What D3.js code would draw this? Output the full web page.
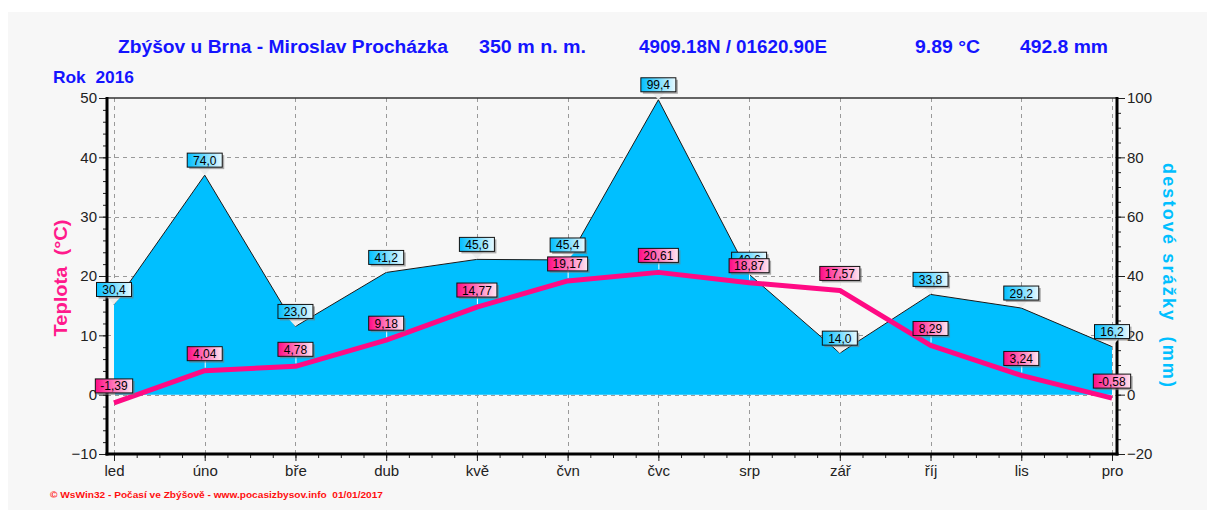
<!DOCTYPE html>
<html>
<head>
<meta charset="utf-8">
<script src="https://cdn.jsdelivr.net/npm/d3@7"></script>
<style>
  html, body { margin: 0; padding: 0; background: #ffffff; }
  svg { display: block; font-family: "Liberation Sans", Arial, sans-serif; }
  text.pre { white-space: pre; }
</style>
</head>
<body>
<svg id="chart" width="1215" height="514"></svg>
<script>
// ---- data ----
const months = ["led", "úno", "bře", "dub", "kvě", "čvn", "čvc", "srp", "zář", "říj", "lis", "pro"];
const temperature = [-1.39, 4.04, 4.78, 9.18, 14.77, 19.17, 20.61, 18.87, 17.57, 8.29, 3.24, -0.58];
const precipitation = [30.4, 74.0, 23.0, 41.2, 45.6, 45.4, 99.4, 40.6, 14.0, 33.8, 29.2, 16.2];
const tempTicks = [-10, 0, 10, 20, 30, 40, 50];
const precTicks = [-20, 0, 20, 40, 60, 80, 100];
const headerTexts = ["Zbýšov u Brna - Miroslav Procházka", "350 m n. m.", "4909.18N / 01620.90E", "9.89 °C", "492.8 mm"];
const yearLabel = "Rok  2016";
const leftTitle = "Teplota  (°C)";
const rightTitle = "destové srážky  (mm)";
const footer = "© WsWin32 - Počasí ve Zbýšově - www.pocasizbysov.info  01/01/2017";

const svg = d3.select("#chart");

// panel background
svg.append("rect").attr("x", 8).attr("y", 12).attr("width", 1199).attr("height", 498).attr("fill", "#f7f7f7");

const L = 107, R = 1117, T = 98, B = 454;
const x = d3.scalePoint().domain(months).range([114, 1112]);
const yT = d3.scaleLinear().domain([-10, 50]).range([B, T]);
const yP = d3.scaleLinear().domain([-20, 100]).range([B, T]);

// defs: gradients
const defs = svg.append("defs");
const gP = defs.append("linearGradient").attr("id", "gPink");
gP.append("stop").attr("offset", "0%").attr("stop-color", "#ff0a84");
gP.append("stop").attr("offset", "100%").attr("stop-color", "#ffe6f2");
const gB = defs.append("linearGradient").attr("id", "gBlue");
gB.append("stop").attr("offset", "0%").attr("stop-color", "#00bfff");
gB.append("stop").attr("offset", "100%").attr("stop-color", "#e8f9ff");

// header
const hdr = svg.append("g").attr("fill", "#1414ff").attr("font-weight", "bold").attr("font-size", 18);
const hdrPos = [[118, 330], [479, 107], [639, 188], [915, 65], [1020, 88]];
headerTexts.forEach((t, i) => {
  hdr.append("text").attr("class", "pre").attr("x", hdrPos[i][0]).attr("y", 53).attr("textLength", hdrPos[i][1])
    .attr("lengthAdjust", "spacingAndGlyphs").text(t);
});
svg.append("text").attr("class", "pre").attr("x", 53).attr("y", 83).attr("fill", "#1414ff").attr("font-weight", "bold")
  .attr("font-size", 17).attr("textLength", 81).attr("lengthAdjust", "spacingAndGlyphs").text(yearLabel);

// grid
const grid = svg.append("g").attr("stroke", "#9a9a9a").attr("stroke-width", 1).attr("stroke-dasharray", "4,4");
[0, 10, 20, 30, 40].forEach(v => {
  grid.append("line").attr("x1", L).attr("x2", R).attr("y1", Math.round(yT(v)) + 0.5).attr("y2", Math.round(yT(v)) + 0.5);
});
months.forEach(m => {
  grid.append("line").attr("x1", Math.round(x(m)) + 0.5).attr("x2", Math.round(x(m)) + 0.5).attr("y1", T).attr("y2", B);
});

// precipitation area
const pData = months.map((m, i) => ({ m, v: precipitation[i] }));
svg.append("path").datum(pData)
  .attr("d", d3.area().x(d => x(d.m)).y0(yP(0)).y1(d => yP(d.v)))
  .attr("fill", "#00bfff");
svg.append("path").datum(pData)
  .attr("d", d3.line().x(d => x(d.m)).y(d => yP(d.v)))
  .attr("fill", "none").attr("stroke", "#1a1a1a").attr("stroke-width", 1);

// temperature line
const tData = months.map((m, i) => ({ m, v: temperature[i] }));
svg.append("path").datum(tData)
  .attr("d", d3.line().x(d => x(d.m)).y(d => yT(d.v)))
  .attr("fill", "none").attr("stroke", "#ff0a84").attr("stroke-width", 5).attr("stroke-linejoin", "round");

// axes
function styleAxis(g) {
  g.select(".domain").remove();
  g.selectAll(".tick line").attr("stroke", "#222").attr("stroke-width", 1);
  g.selectAll(".tick text").attr("fill", "#222").attr("font-size", 15).attr("font-family", "Liberation Sans, Arial, sans-serif");
}
// left
const leftMinor = d3.range(-10, 50.01, 2);
svg.append("g").attr("transform", `translate(${L},0)`)
  .call(d3.axisLeft(yT).tickValues(leftMinor).tickSize(4).tickFormat(""))
  .call(styleAxis);
svg.append("g").attr("transform", `translate(${L},0)`)
  .call(d3.axisLeft(yT).tickValues(tempTicks).tickSize(8).tickPadding(2).tickFormat(d3.format("d")))
  .call(styleAxis);
// right
const rightMinor = d3.range(-20, 100.01, 5);
svg.append("g").attr("transform", `translate(${R},0)`)
  .call(d3.axisRight(yP).tickValues(rightMinor).tickSize(4).tickFormat(""))
  .call(styleAxis);
svg.append("g").attr("transform", `translate(${R},0)`)
  .call(d3.axisRight(yP).tickValues(precTicks).tickSize(8).tickPadding(2).tickFormat(d3.format("d")))
  .call(styleAxis);
// bottom
const xm = d3.scaleLinear().domain([0, 11]).range([114, 1112]);
svg.append("g").attr("transform", `translate(0,${B})`)
  .call(d3.axisBottom(xm).tickValues(d3.range(0, 11.01, 0.25)).tickSize(4).tickFormat(""))
  .call(styleAxis);
svg.append("g").attr("transform", `translate(0,${B})`)
  .call(d3.axisBottom(x).tickSize(7).tickPadding(4))
  .call(styleAxis);

// frame
svg.append("line").attr("x1", L).attr("x2", R).attr("y1", T).attr("y2", T).attr("stroke", "#333").attr("stroke-width", 1.5);
svg.append("line").attr("x1", L).attr("x2", L).attr("y1", T - 1).attr("y2", B + 1.5).attr("stroke", "#000").attr("stroke-width", 3);
svg.append("line").attr("x1", R).attr("x2", R).attr("y1", T - 1).attr("y2", B + 1.5).attr("stroke", "#000").attr("stroke-width", 3);
svg.append("line").attr("x1", L - 1.5).attr("x2", R + 1.5).attr("y1", B).attr("y2", B).attr("stroke", "#000").attr("stroke-width", 3);

// axis titles
svg.append("text").attr("class", "pre").attr("transform", `translate(67,278) rotate(-90)`).attr("text-anchor", "middle")
  .attr("fill", "#ff1a8c").attr("font-weight", "bold").attr("font-size", 18)
  .attr("textLength", 117).attr("lengthAdjust", "spacingAndGlyphs").text(leftTitle);
svg.append("text").attr("class", "pre").attr("transform", `translate(1163,275) rotate(90)`).attr("text-anchor", "middle")
  .attr("fill", "#00bfff").attr("font-weight", "bold").attr("font-size", 18)
  .attr("textLength", 224).attr("lengthAdjust", "spacing").text(rightTitle);

// value labels
function label(cx, py, txt, fillId, gap, kind) {
  const g = svg.append("g");
  const t = g.append("text").attr("font-size", 12).attr("fill", "#000").attr("text-anchor", "middle").text(txt);
  const w = Math.max(35, t.node().getComputedTextLength() + 10);
  const h = 14;
  const bottom = py - gap;
  const top = bottom - h;
  if (kind === "p") {
    g.insert("path", "text").attr("d", `M${cx - 7},${bottom} L${cx + 7},${bottom} L${cx},${py} Z`).attr("fill", "#ececec");
  } else {
    g.insert("line", "text").attr("x1", cx + 0.5).attr("x2", cx + 0.5).attr("y1", bottom).attr("y2", py - 3)
      .attr("stroke", "#fff").attr("stroke-width", 1);
  }
  g.insert("rect", "text").attr("x", cx - w / 2 + 2).attr("y", top + 2).attr("width", w).attr("height", h)
    .attr("fill", "#777").attr("opacity", 0.6);
  g.insert("rect", "text").attr("x", cx - w / 2).attr("y", top).attr("width", w).attr("height", h)
    .attr("fill", `url(#${fillId})`).attr("stroke", "#111").attr("stroke-width", 1);
  t.attr("x", cx).attr("y", top + 11.5);
}
precipitation.forEach((v, i) => label(x(months[i]), yP(v), v.toFixed(1).replace(".", ","), "gBlue", 8, "p"));
temperature.forEach((v, i) => label(x(months[i]), yT(v), v.toFixed(2).replace(".", ","), "gPink", 10, "t"));

// footer
svg.append("text").attr("class", "pre").attr("x", 50).attr("y", 498).attr("fill", "#ff1010").attr("font-weight", "bold")
  .attr("font-size", 9).attr("textLength", 333).attr("lengthAdjust", "spacingAndGlyphs").text(footer);
</script>
</body>
</html>
